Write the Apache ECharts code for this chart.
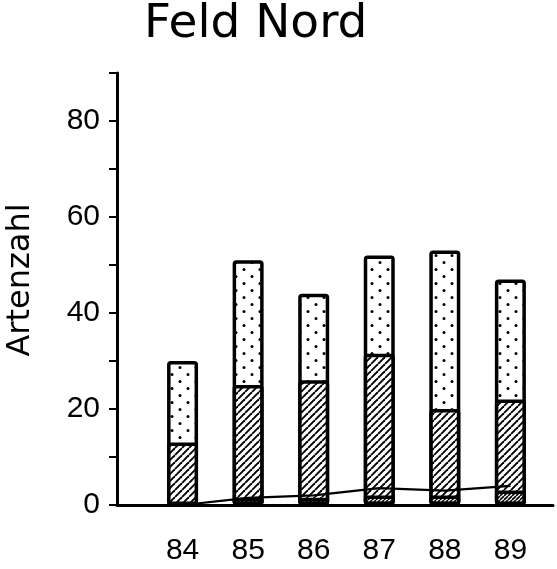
<!DOCTYPE html>
<html>
<head>
<meta charset="utf-8">
<script src="https://cdn.jsdelivr.net/npm/echarts@6/dist/echarts.min.js"></script>
<style>html,body{margin:0;padding:0;background:#fff}#c{width:557px;height:569px}</style>
</head>
<body>
<div id="c"></div>
<script>
// Data
const years = [84, 85, 86, 87, 88, 89];
const yearLabels = ['84', '85', '86', '87', '88', '89'];
const bottomSeg = [0, 1.5, 1.5, 2, 2, 3];        // dense hatched base
const middleSeg = [13, 23.5, 24.5, 29.5, 18, 19]; // hatched
const topSeg = [17, 26, 18, 20.5, 33, 25];        // dotted
const lineVals = [0, 1.5, 2, 3.5, 3, 4];
const yTicks = [0, 20, 40, 60, 80];

// cumulative tops (stack built from the segments)
const cumBottom = bottomSeg.slice();
const cumMiddle = bottomSeg.map((v, i) => v + middleSeg[i]);
const cumTop = cumMiddle.map((v, i) => v + topSeg[i]);

function hatch(p, lw) {
  const c = document.createElement('canvas');
  c.width = p; c.height = p;
  const g = c.getContext('2d');
  g.fillStyle = '#fff'; g.fillRect(0, 0, p, p);
  g.strokeStyle = '#000'; g.lineWidth = lw;
  for (const k of [-p, 0, p]) {
    g.beginPath(); g.moveTo(k, p); g.lineTo(k + p, 0); g.stroke();
  }
  return c;
}
function dots() {
  const c = document.createElement('canvas');
  c.width = 16; c.height = 14;
  const g = c.getContext('2d');
  g.fillStyle = '#fff'; g.fillRect(0, 0, 16, 14);
  g.fillStyle = '#000';
  for (const [x, y] of [[4, 3.5], [12, 10.5]]) {
    g.beginPath(); g.arc(x, y, 1.5, 0, Math.PI * 2); g.fill();
  }
  return c;
}

const chart = echarts.init(document.getElementById('c'), null, {renderer: 'canvas'});
const border = {borderColor: '#000', borderWidth: 3.5, borderRadius: 2};
const pair = arr => years.map((y, i) => [y, arr[i]]);
const font = 'DejaVu Sans';
const tickFont = 'Liberation Sans';

chart.setOption({
  animation: false,
  backgroundColor: '#fff',
  title: {
    text: 'Feld Nord', left: 139, top: -4,
    textStyle: {fontFamily: font, fontSize: 47, fontWeight: 'normal', color: '#000'}
  },
  grid: {left: 117, right: 4, top: 73, bottom: 64, containLabel: false, outerBoundsMode: 'none'},
  xAxis: {
    type: 'value', min: 83, max: 89.65, interval: 1,
    axisLine: {show: true, lineStyle: {color: '#000', width: 3}},
    axisTick: {show: false}, splitLine: {show: false},
    axisLabel: {
      showMaxLabel: false,
      margin: 31, fontFamily: tickFont, fontSize: 30, color: '#000',
      formatter: v => { const i = years.indexOf(Math.round(v)); return i >= 0 ? yearLabels[i] : ''; }
    }
  },
  yAxis: {
    type: 'value', min: 0, max: 90, interval: 10,
    name: 'Artenzahl', nameLocation: 'middle', nameGap: 80, nameRotate: 90,
    nameTextStyle: {fontFamily: font, fontSize: 32, color: '#000', padding: [0, 0, 0, 18]},
    axisLine: {show: true, lineStyle: {color: '#000', width: 3}},
    axisTick: {show: true, inside: false, length: 8, lineStyle: {color: '#000', width: 2}},
    splitLine: {show: false},
    axisLabel: {
      margin: 17, fontFamily: tickFont, fontSize: 30, color: '#000',
      formatter: v => yTicks.includes(v) ? String(v) : ''
    }
  },
  series: [
    {type: 'bar', barWidth: 31, barGap: '-100%', data: pair(cumTop),
     itemStyle: Object.assign({color: {image: dots(), repeat: 'repeat'}}, border)},
    {type: 'bar', barWidth: 31, barGap: '-100%', data: pair(cumMiddle),
     itemStyle: Object.assign({color: {image: hatch(7, 1.9), repeat: 'repeat'}}, border)},
    {type: 'bar', barWidth: 31, barGap: '-100%', data: pair(cumBottom),
     itemStyle: Object.assign({color: {image: hatch(4, 1.6), repeat: 'repeat'}}, border)},
    {type: 'line', data: pair(lineVals), symbol: 'none', z: 5,
     lineStyle: {color: '#000', width: 2.2}}
  ]
});
</script>
</body>
</html>
